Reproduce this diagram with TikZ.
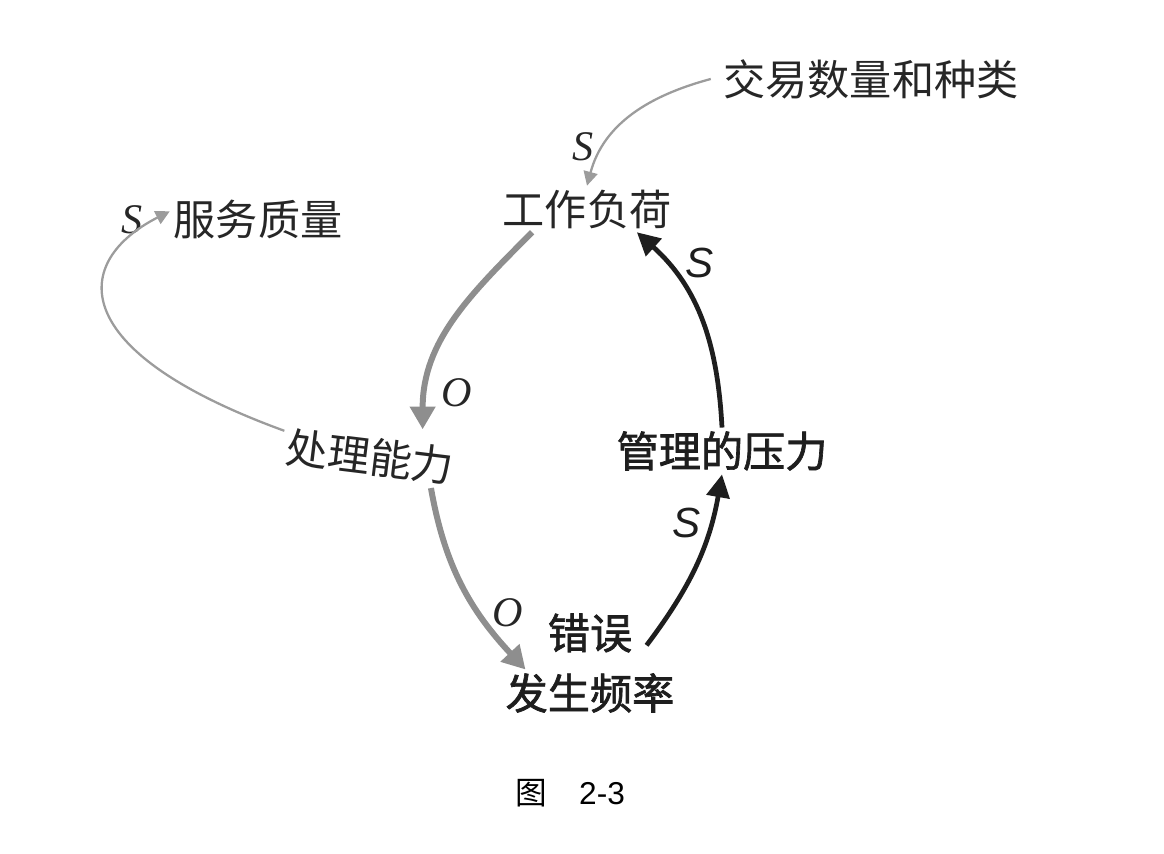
\documentclass[tikz,border=0pt]{standalone}
\usepackage{fontspec}
\setmainfont{Liberation Serif}
\setsansfont{Liberation Sans}
\newfontfamily\cjk{Noto Sans CJK SC}
\newfontfamily\cjkheavy{Noto Sans CJK SC}[FakeBold=1.6]
\usetikzlibrary{arrows.meta}
\definecolor{linkgray}{HTML}{9C9C9C}
\definecolor{flowgray}{HTML}{8E8E8E}
\definecolor{inkblack}{HTML}{1E1E1E}

\begin{document}
\begin{tikzpicture}[x=0.02cm,y=0.02cm,
  var/.style={inner sep=2pt,text=black!85,font=\cjk\fontsize{24}{28}\selectfont},
  keyvar/.style={inner sep=2pt,text=inkblack,font=\cjkheavy\fontsize{24}{28}\selectfont},
  sign/.style={inner sep=0pt,text=black!85,font=\fontsize{24}{28}\selectfont\itshape},
  keysign/.style={inner sep=0pt,text=inkblack,font=\sffamily\fontsize{24}{28}\selectfont\itshape},
  caption/.style={inner sep=0pt,font=\fontsize{18}{22}\selectfont},
  thinlink/.style={draw=linkgray,line width=1.3pt,-{Triangle[length=8pt,width=8pt]}},
  flowlink/.style={draw=flowgray,line width=3.4pt,-{Triangle[length=13pt,width=14pt]}},
  keylink/.style={draw=inkblack,line width=2.7pt,-{Triangle[length=13pt,width=13pt]}}]
\useasboundingbox (0,0) rectangle (1164,854);

\node[var] (trade) at (871,775) {交易数量和种类};
\node[var] (load) at (587,645) {工作负荷};
\node[var] (quality) at (258,635) {服务质量};
\node[var,rotate=-7] (capacity) at (370,397) {处理能力};
\node[keyvar] (pressure) at (722,403) {管理的压力};
\node[keyvar] (errtop) at (590,221) {错误};
\node[keyvar] (errrate) at (590,161) {发生频率};

\node[sign] (s-trade) at (583,707) {S};
\node[keysign] (s-press) at (700,591) {S};
\node[sign] (o-load) at (457,461) {O};
\node[sign] (s-cap) at (132,634) {S};
\node[sign] (o-cap) at (508,241) {O};
\node[keysign] (s-err) at (687,331) {S};

\draw[thinlink] ([xshift=-5pt]trade.west) to[out=195,in=75] (load.north);
\draw[flowlink] (load.-157) to[out=225,in=90] ([yshift=6pt]capacity.25);
\draw[thinlink] (capacity.170) .. controls +(160:4.7cm) and +(207:2.2cm) .. (quality.175);
\draw[flowlink] (capacity.-20) to[out=-80,in=133] (errrate.160);
\draw[keylink] ([xshift=6pt]errtop.-15) to[out=53,in=-100] (pressure.south);
\draw[keylink] (pressure.north) to[out=93,in=-42] (load.-25);

\node[caption] (fig) at (570,61) {\cjk 图\hspace{0.65cm}\sffamily 2-3};
\end{tikzpicture}
\end{document}
